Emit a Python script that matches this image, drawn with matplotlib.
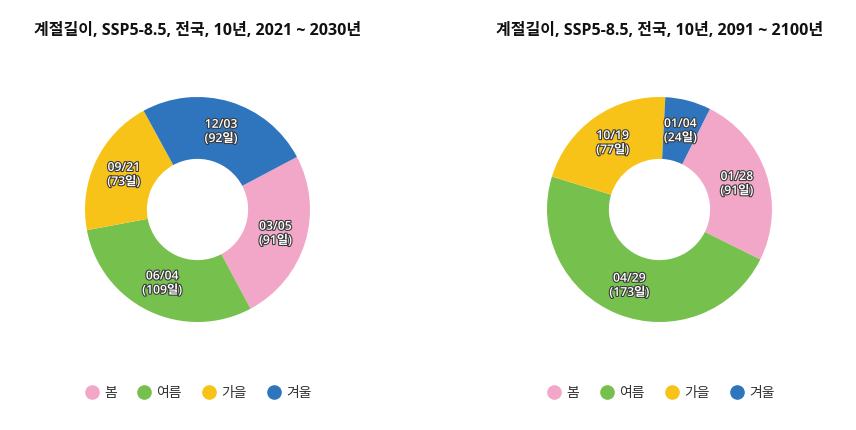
import datetime
import matplotlib
matplotlib.use('Agg')
import matplotlib.pyplot as plt
import matplotlib.patheffects as pe
from matplotlib.lines import Line2D

plt.rcParams['font.family'] = ['Open Sans', 'Noto Sans CJK KR', 'DejaVu Sans']

# data
seasons = ['봄', '여름', '가을', '겨울']
colors = ['#F2A7C8', '#76C04D', '#F8C318', '#2E75BE']

titles = ['계절길이, SSP5-8.5, 전국, 10년, 2021 ~ 2030년',
          '계절길이, SSP5-8.5, 전국, 10년, 2091 ~ 2100년']
start_dates = [['03/05', '06/04', '09/21', '12/03'],
               ['01/28', '04/29', '10/19', '01/04']]
season_days = [[91, 109, 73, 92],
               [91, 173, 77, 24]]

W, H = 856, 430
fig = plt.figure(figsize=(W / 100, H / 100), dpi=100)

centers = [(197.5, 209.5), (659.5, 209.5)]
R = 112.5
legend_x = [85.5, 548]

for i in range(2):
    cx, cy = centers[i]
    ax = fig.add_axes([(cx - R) / W, (H - cy - R) / H, 2 * R / W, 2 * R / H])
    ax.axis('off')

    # pie starts at Jan 1 on top, clockwise; spring starts at its date
    m, d = map(int, start_dates[i][0].split('/'))
    doy = datetime.date(2021, m, d).timetuple().tm_yday
    start = 90 - (doy - 1) * 360 / 365

    labels = [f'{s}\n({n}일)' for s, n in zip(start_dates[i], season_days[i])]
    wedges, texts = ax.pie(season_days[i], colors=colors, startangle=start,
                           counterclock=False, radius=1,
                           wedgeprops=dict(width=0.55, linewidth=0),
                           labels=labels, labeldistance=0.725,
                           textprops=dict(color='white', fontsize=8.8,
                                          fontweight='semibold', ha='center',
                                          va='center', linespacing=1.12))
    for t in texts:
        t.set_ha('center')
        t.set_path_effects([pe.withStroke(linewidth=1.6, foreground='#3a3a3a')])
    ax.set_xlim(-1, 1)
    ax.set_ylim(-1, 1)

    fig.text(cx / W, 1 - 31 / H, titles[i], ha='center', va='center',
             fontsize=11.5, fontweight='bold', color='#111111')

    handles = [Line2D([], [], marker='o', linestyle='', markersize=9.5,
                      markerfacecolor=c, markeredgecolor=c) for c in colors]
    fig.legend(handles, seasons, loc='center left',
               bbox_to_anchor=(legend_x[i] / W, 1 - 393 / H),
               ncol=4, frameon=False, fontsize=10, handletextpad=0.45,
               columnspacing=1.5, handlelength=0.9, borderpad=0,
               borderaxespad=0, labelcolor='#333333')

fig.savefig('out.png', dpi=100)
